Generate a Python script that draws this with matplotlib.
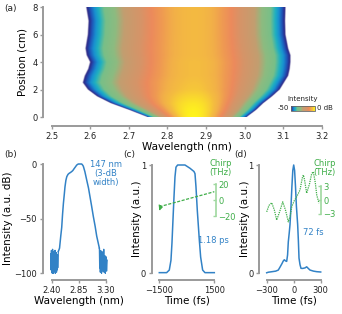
import numpy as np
import matplotlib
matplotlib.use("Agg")
import matplotlib.pyplot as plt
from matplotlib.colors import LinearSegmentedColormap, Normalize
from matplotlib.cm import ScalarMappable

# ---- data ----
# (a) spectral evolution: -50 dB edges and peak level vs position
pos_cm = [0, 0.5, 1, 1.5, 2, 2.5, 3, 3.5, 4, 4.5, 5, 6, 7, 8]
left_edge = [2.746, 2.70, 2.651, 2.615, 2.591, 2.578, 2.583, 2.592, 2.597, 2.588, 2.585, 2.591, 2.593, 2.587]
right_edge = [3.006, 3.03, 3.049, 3.072, 3.092, 3.103, 3.114, 3.118, 3.120, 3.120, 3.114, 3.107, 3.106, 3.107]
center_wl = [2.866, 2.866, 2.867, 2.868, 2.869, 2.870, 2.870, 2.870, 2.870, 2.870, 2.870, 2.870, 2.870, 2.870]
peak_db = [0, -0.5, -1.5, -3, -4.5, -5, -5.5, -5.5, -5.5, -6, -6, -6, -6, -6]

# (b) output spectrum
spec_wl = [2.51, 2.53, 2.55, 2.566, 2.58, 2.594, 2.61, 2.62, 2.635, 2.65, 2.67, 2.69, 2.71,
           2.73, 2.75, 2.775, 2.795, 2.814, 2.84, 2.87, 2.897, 2.91, 2.924, 2.95, 2.98, 3.01,
           3.035, 3.06, 3.09, 3.12, 3.146, 3.17, 3.19]
spec_db = [-80, -77, -66, -58, -46, -36, -27, -21, -15, -11.6, -9.5, -8.5, -7.8, -7, -6, -4,
           -2.5, -1, 0, 0, 0, -0.8, -2, -7, -14.6, -22, -30, -38, -48, -57, -66, -72, -77]
noise_left = [-82, -97, -79, -99, -85, -100, -78, -95, -88, -100, -80, -98, -84, -96, -79,
              -100, -86, -93, -81, -99, -90, -97, -83, -95, -88, -80]
noise_right = [-77, -95, -82, -99, -79, -97, -86, -100, -80, -94, -89, -98, -83, -96, -78,
               -99, -87, -95, -84, -100, -90, -97, -85, -98, -92, -88]

# (c) long pulse
tc = [-1500, -1100, -955, -864, -809, -755, -700, -645, -590, -500, -282, -100, 173, 391,
      447, 500, 573, 682, 755, 864, 990, 1500]
ic = [0.006, 0.006, 0.03, 0.12, 0.28, 0.49, 0.7, 0.89, 0.98, 1.0, 1.0, 1.0, 0.97, 0.94,
      0.92, 0.8, 0.58, 0.31, 0.15, 0.03, 0.006, 0.006]
chirp_tc = [-1500, -1000, -500, 0, 500, 1000, 1500]
chirp_c = [-8.4, -5.3, -2.2, 1.0, 4.1, 7.2, 10.4]
chirp_tc_edge = [-1500, -1470, -1440, -1410, -1380, -1350]
chirp_c_edge = [-6.5, -12, -7, -10.5, -8, -9]

# (d) compressed pulse
td = [-300, -282, -240, -200, -171, -150, -130, -115, -104, -92, -78, -68, -60, -50, -41,
      -30, -20, -10, 0, 10, 20, 30, 44, 52, 59, 70, 81, 100, 126, 144, 162, 181, 220, 256, 300]
idd = [0.005, 0.01, 0.015, 0.02, 0.03, 0.06, 0.09, 0.115, 0.125, 0.115, 0.11, 0.17, 0.29,
       0.37, 0.45, 0.62, 0.8, 0.95, 1.0, 0.95, 0.8, 0.62, 0.45, 0.3, 0.14, 0.08, 0.046,
       0.045, 0.05, 0.06, 0.045, 0.03, 0.02, 0.015, 0.012]
chirp_td = [-300, -275, -244, -215, -189, -155, -122, -90, -60, -40, -22, 5, 33, 70, 95,
            107, 120, 144, 175, 200, 218, 240, 256, 281]
chirp_d = [-2.6, -1.2, -0.6, -2.2, -4.4, -2.5, -0.4, -2.3, -4.8, -3.6, -1.5, -0.2, 0.7,
           2.2, 4.8, 5.5, 4.5, 1.5, 3.5, 5.8, 6.2, 3.8, 1.1, -0.7]

BLUE = '#3282c6'
GREEN = '#3fae49'
GRAY = '#9a9a9a'
TXT = '#222222'

W, H = 342, 314
fig = plt.figure(figsize=(W / 100, H / 100), dpi=100)
plt.rcParams['font.family'] = 'DejaVu Sans'


def px_axes(x0, y0, x1, y1):
    return fig.add_axes([x0 / W, 1 - y1 / H, (x1 - x0) / W, (y1 - y0) / H])


def style(ax, xb, yb, xoff, yoff, fs=6):
    for s in ['top', 'right']:
        ax.spines[s].set_visible(False)
    for s in ['left', 'bottom']:
        ax.spines[s].set_color(GRAY)
        ax.spines[s].set_linewidth(1.4)
    ax.spines['left'].set_position(('outward', xoff))
    ax.spines['bottom'].set_position(('outward', yoff))
    ax.spines['bottom'].set_bounds(*xb)
    ax.spines['left'].set_bounds(*yb)
    ax.tick_params(color=GRAY, length=2.5, width=1, labelsize=fs, labelcolor=TXT, pad=1.5)


# ---- (a) ----
cmap = LinearSegmentedColormap.from_list('sc', [
    (0.00, '#2a1d78'), (0.03, '#2a2f90'), (0.07, '#1f55b8'), (0.13, '#1890d0'),
    (0.19, '#20b0c0'), (0.27, '#78bf88'), (0.40, '#8dbb80'), (0.50, '#c29e70'),
    (0.66, '#d69468'), (0.74, '#ec8a5c'), (0.80, '#ef9a52'), (0.85, '#f2b048'),
    (0.89, '#f4bc40'), (1.00, '#fff41c')])
norm = Normalize(-50, 0)

ax = px_axes(51.7, 7.3, 321.7, 117.3)
wl = np.linspace(2.5, 3.2, 700)
zz = np.linspace(0, 8, 300)
L = np.interp(zz, pos_cm, left_edge)[:, None]
R = np.interp(zz, pos_cm, right_edge)[:, None]
C = np.interp(zz, pos_cm, center_wl)[:, None]
P = np.interp(zz, pos_cm, peak_db)[:, None]
d = np.where(wl[None, :] < C, (C - wl[None, :]) / (C - L), (wl[None, :] - C) / (R - C))
field = P - (50 + P) * np.clip(d, 0, 1) ** 2
rgba = cmap(norm(field))
rgba[..., 3] = np.clip((1 - d) / 0.012, 0, 1)
ax.imshow(rgba, extent=[2.5, 3.2, 0, 8], origin='lower', aspect='auto',
          interpolation='bilinear')
ax.set_xlim(2.5, 3.2)
ax.set_ylim(0, 8)
style(ax, (2.5, 3.2), (0, 8), 6.3, 6.3)
ax.set_xticks([2.5, 2.6, 2.7, 2.8, 2.9, 3.0, 3.1, 3.2],
              ['2.5', '2.6', '2.7', '2.8', '2.9', '3.0', '3.1', '3.2'])
ax.set_yticks([0, 2, 4, 6, 8])
ax.set_xlabel('Wavelength (nm)', fontsize=7.5, labelpad=1)
ax.set_ylabel('Position (cm)', fontsize=7.5, labelpad=3)

cax = px_axes(290.7, 105.7, 315, 111)
cb = fig.colorbar(ScalarMappable(norm=norm, cmap=cmap), cax=cax, orientation='horizontal')
cb.set_ticks([])
cb.outline.set_edgecolor('#666666')
cb.outline.set_linewidth(0.6)
fig.text(303 / W, 1 - 99 / H, 'Intensity', fontsize=5, ha='center', va='center', color=TXT)
fig.text(289 / W, 1 - 108.5 / H, '-50', fontsize=5, ha='right', va='center', color=TXT)
fig.text(317 / W, 1 - 108.5 / H, '0 dB', fontsize=5, ha='left', va='center', color=TXT)

# ---- (b) ----
ax = px_axes(51.7, 164, 106, 273.3)
ax.plot(np.linspace(2.385, 2.51, len(noise_left)), noise_left, color=BLUE, lw=0.9)
ax.plot(spec_wl, spec_db, color=BLUE, lw=1.1)
ax.plot(np.linspace(3.19, 3.32, len(noise_right)), noise_right, color=BLUE, lw=0.9)
ax.set_xlim(2.40, 3.30)
ax.set_ylim(-100, 0)
for ln in ax.lines:
    ln.set_clip_on(False)
style(ax, (2.40, 3.30), (-100, 0), 6.5, 4.8)
ax.set_xticks([2.40, 2.85, 3.30], ['2.40', '2.85', '3.30'])
ax.set_yticks([0, -50, -100])
ax.set_xlabel('Wavelength (nm)', fontsize=7.5, labelpad=1)
ax.set_ylabel('Intensity (a.u. dB)', fontsize=7.5, labelpad=1)
fig.text(106 / W, 1 - 173.5 / H, '147 nm\n(3-dB\nwidth)', fontsize=6, color=BLUE,
         ha='center', va='center', linespacing=0.95)

# ---- (c) ----
ax = px_axes(159.3, 165, 214.3, 273.3)
ax.plot(tc, ic, color=BLUE, lw=1.1, clip_on=False)
ax.set_xlim(-1500, 1500)
ax.set_ylim(0, 1)
style(ax, (-1500, 1500), (0, 1), 5.5, 4.8)
ax.set_xticks([-1500, 1500])
ax.set_yticks([0, 1])
ax.set_xlabel('Time (fs)', fontsize=7.5, labelpad=1)
ax.set_ylabel('Intensity (a.u.)', fontsize=7.5, labelpad=-1)
ax.text(0.98, 0.30, '1.18 ps', transform=ax.transAxes, fontsize=6, color=BLUE,
        ha='center', va='center')

tw = ax.twinx()
tw.set_position(ax.get_position())
tw.plot(chirp_tc, chirp_c, color=GREEN, lw=0.9, ls=(0, (2.5, 1.2)), clip_on=False)
tw.plot(chirp_tc_edge, chirp_c_edge, color=GREEN, lw=0.9, clip_on=False)
tw.set_ylim(-91.6, 43.75)
for s in ['top', 'left', 'bottom']:
    tw.spines[s].set_visible(False)
tw.spines['right'].set_color('#9fd89f')
tw.spines['right'].set_linewidth(1.2)
tw.spines['right'].set_position(('outward', 1.3))
tw.spines['right'].set_bounds(-20, 20)
tw.set_yticks([-20, 0, 20])
tw.tick_params(axis='y', color='#9fd89f', length=2.5, width=1, labelsize=6,
               labelcolor=GREEN, pad=1.5, direction='in')
fig.text(209 / W, 1 - 168 / H, 'Chirp\n(THz)', fontsize=6, color=GREEN, ha='left',
         va='center', linespacing=0.95)

# ---- (d) ----
ax = px_axes(266.7, 165, 320.7, 273.3)
ax.plot(td, idd, color=BLUE, lw=1.1, clip_on=False)
ax.set_xlim(-300, 300)
ax.set_ylim(0, 1)
style(ax, (-300, 300), (0, 1), 5.5, 4.8)
ax.set_xticks([-300, 0, 300])
ax.set_yticks([0, 1])
ax.set_xlabel('Time (fs)', fontsize=7.5, labelpad=1)
ax.set_ylabel('Intensity (a.u.)', fontsize=7.5, labelpad=-1)
ax.text(0.86, 0.38, '72 fs', transform=ax.transAxes, fontsize=6, color=BLUE,
        ha='center', va='center')

tw = ax.twinx()
tw.set_position(ax.get_position())
tw.plot(chirp_td, chirp_d, color=GREEN, lw=0.9, ls=(0, (1, 0.8)), clip_on=False)
tw.set_ylim(-16.1, 7.69)
for s in ['top', 'left', 'bottom']:
    tw.spines[s].set_visible(False)
tw.spines['right'].set_color('#9fd89f')
tw.spines['right'].set_linewidth(1.2)
tw.spines['right'].set_position(('outward', 0.3))
tw.spines['right'].set_bounds(-3, 3)
tw.set_yticks([-3, 0, 3])
tw.tick_params(axis='y', color='#9fd89f', length=2.5, width=1, labelsize=6,
               labelcolor=GREEN, pad=1.5, direction='in')
fig.text(313 / W, 1 - 168 / H, 'Chirp\n(THz)', fontsize=6, color=GREEN, ha='left',
         va='center', linespacing=0.95)

# panel labels
for lab, x, y in [('(a)', 4, 8), ('(b)', 4, 154), ('(c)', 123, 154), ('(d)', 234, 154)]:
    fig.text(x / W, 1 - y / H, lab, fontsize=6.5, ha='left', va='center', color=TXT)

fig.savefig('out.png', dpi=100)
